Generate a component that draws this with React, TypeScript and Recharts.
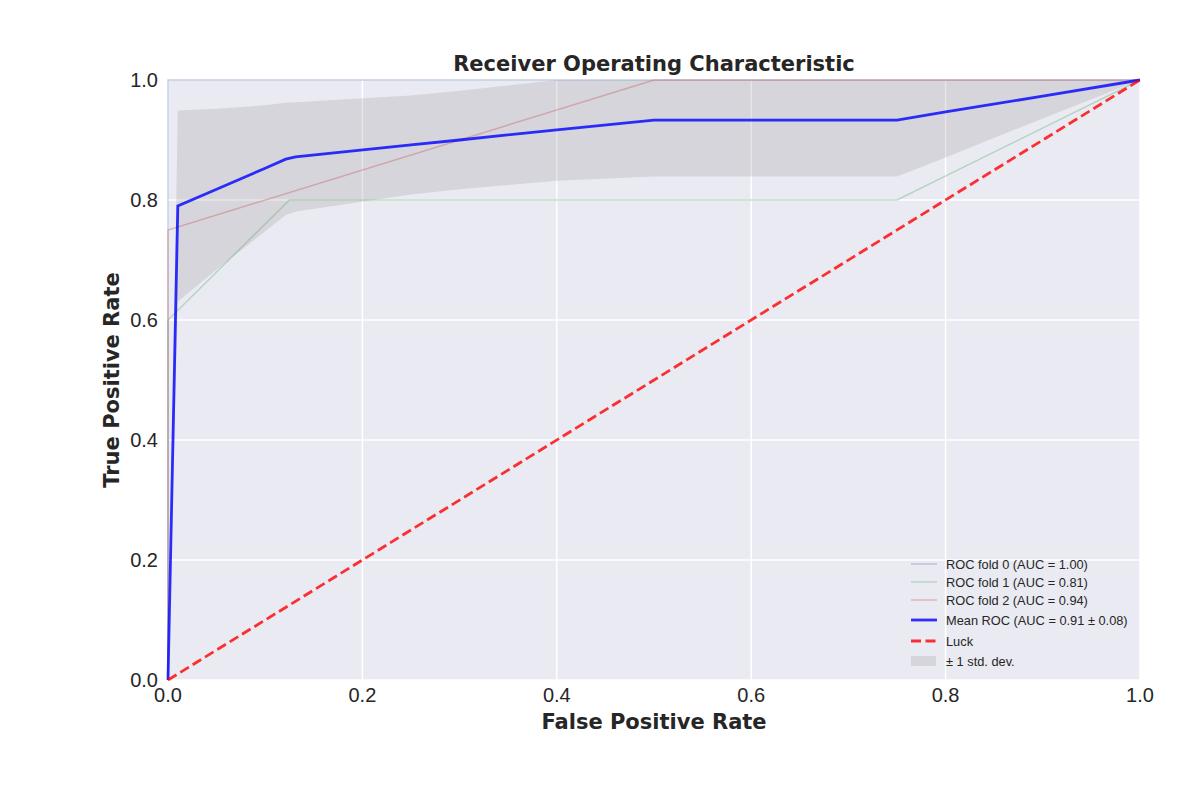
import React from 'react'
import {
  ComposedChart, Line, Area, XAxis, YAxis, CartesianGrid,
} from 'recharts'

// ROC points per fold
const fold0Fpr = [0, 0, 1]
const fold0Tpr = [0, 1, 1]
const fold1Fpr = [0, 0, 0.125, 0.75, 1]
const fold1Tpr = [0, 0.6, 0.8, 0.8, 1]
const fold2Fpr = [0, 0, 0.5, 1]
const fold2Tpr = [0, 0.75, 1, 1]
const luckFpr = [0, 1]
const luckTpr = [0, 1]

// mean curve and +/- 1 std band
const meanFpr = [0, 0.0101, 0.05, 0.1, 0.1212, 0.1313, 0.25, 0.3, 0.4, 0.5, 0.75, 0.8, 0.9, 1]
const meanTpr = [0, 0.79, 0.818, 0.853, 0.868, 0.872, 0.892, 0.9, 0.917, 0.933, 0.933, 0.947, 0.973, 1]
const stdLower = [0, 0.631, 0.684, 0.748, 0.775, 0.781, 0.809, 0.818, 0.832, 0.839, 0.839, 0.871, 0.936, 1]
const stdUpper = [0, 0.949, 0.952, 0.958, 0.962, 0.963, 0.974, 0.982, 1, 1, 1, 1, 1, 1]

const TICKS = [0, 0.2, 0.4, 0.6, 0.8, 1]

const FOLD_W = 1.4
const LEGEND = [
  { label: 'ROC fold 0 (AUC = 1.00)', color: '#4C72B0', opacity: 0.35, width: FOLD_W, kind: 'line' },
  { label: 'ROC fold 1 (AUC = 0.81)', color: '#55A868', opacity: 0.35, width: FOLD_W, kind: 'line' },
  { label: 'ROC fold 2 (AUC = 0.94)', color: '#C44E52', opacity: 0.35, width: FOLD_W, kind: 'line' },
  { label: 'Mean ROC (AUC = 0.91 \u00b1 0.08)', color: '#0000FF', opacity: 0.8, width: 2.8, kind: 'line' },
  { label: 'Luck', color: '#FF0000', opacity: 0.8, width: 2.8, kind: 'dash' },
  { label: '\u00b1 1 std. dev.', color: '#808080', opacity: 0.2, width: 0, kind: 'box' },
]
const LEGEND_Y = [564, 582, 600, 620, 641, 661]

const toPts = (xs: number[], ys: number[]) => xs.map((x, i) => ({ x, y: ys[i] }))

const bandData = meanFpr.map((x, i) => ({
  x, mean: meanTpr[i], lo: stdLower[i], hi: stdUpper[i],
}))

const TICK_STYLE = { fontSize: 20, fill: '#262626', fontFamily: '"Liberation Sans", Arial, sans-serif' }
const LABEL_STYLE = { fontSize: 21, fontWeight: 700, fill: '#262626', fontFamily: '"DejaVu Sans", sans-serif' }

export default function App() {
  return (
    <div style={{ position: 'absolute', left: 0, top: 0, width: 1200, height: 800, background: '#fff' }}>
      <div style={{
        position: 'absolute', left: 168, top: 52, width: 972, textAlign: 'center',
        fontFamily: '"DejaVu Sans", sans-serif', fontWeight: 700, fontSize: 21, color: '#262626',
      }}>
        Receiver Operating Characteristic
      </div>
      <ComposedChart
        width={1200}
        height={800}
        data={bandData}
        margin={{ top: 80, right: 60, bottom: 60, left: 88 }}
      >
        <CartesianGrid fill="#EAEAF2" stroke="#FFFFFF" strokeWidth={1.5}
          horizontalValues={TICKS} verticalValues={TICKS} />
        <XAxis
          type="number" dataKey="x" domain={[0, 1]} ticks={TICKS} height={60}
          tickFormatter={(v) => v.toFixed(1)} tick={TICK_STYLE}
          axisLine={false} tickLine={false} tickSize={0} tickMargin={8}
          label={{ value: 'False Positive Rate', position: 'center', dy: 12, style: LABEL_STYLE }}
        />
        <YAxis
          type="number" domain={[0, 1]} ticks={TICKS} width={80}
          tickFormatter={(v) => v.toFixed(1)} tick={TICK_STYLE}
          axisLine={false} tickLine={false} tickSize={0} tickMargin={10}
          label={{ value: 'True Positive Rate', position: 'center', angle: -90, dx: -16, style: LABEL_STYLE }}
        />
        <Area type="linear" dataKey={(d: any) => [d.lo, d.hi]} stroke="none"
          fill="#808080" fillOpacity={0.2} isAnimationActive={false} />
        <Line data={toPts(fold0Fpr, fold0Tpr)} dataKey="y" type="linear" stroke="#4C72B0"
          strokeOpacity={0.35} strokeWidth={FOLD_W} dot={false} isAnimationActive={false} />
        <Line data={toPts(fold1Fpr, fold1Tpr)} dataKey="y" type="linear" stroke="#55A868"
          strokeOpacity={0.35} strokeWidth={FOLD_W} dot={false} isAnimationActive={false} />
        <Line data={toPts(fold2Fpr, fold2Tpr)} dataKey="y" type="linear" stroke="#C44E52"
          strokeOpacity={0.35} strokeWidth={FOLD_W} dot={false} isAnimationActive={false} />
        <Line dataKey="mean" type="linear" stroke="#0000FF" strokeOpacity={0.8}
          strokeWidth={2.8} dot={false} isAnimationActive={false} />
        <Line data={toPts(luckFpr, luckTpr)} dataKey="y" type="linear" stroke="#FF0000"
          strokeOpacity={0.8} strokeWidth={2.8} strokeDasharray="10 4.5" dot={false}
          isAnimationActive={false} />
      </ComposedChart>
      {/* legend, lower right inside the plot */}
      <svg style={{ position: 'absolute', left: 0, top: 0, pointerEvents: 'none' }} width={1200} height={800}>
        {LEGEND.map((e, i) => {
          const y = LEGEND_Y[i]
          return (
            <g key={e.label}>
              {e.kind === 'box' ? (
                <rect x={911} y={y - 5} width={25} height={10} fill={e.color} fillOpacity={e.opacity} />
              ) : (
                <line x1={911} x2={937} y1={y} y2={y} stroke={e.color} strokeOpacity={e.opacity}
                  strokeWidth={e.width} strokeDasharray={e.kind === 'dash' ? '10 4.5' : undefined} />
              )}
              <text x={946} y={y} dominantBaseline="central" fontSize={12.8} fill="#262626"
                fontFamily='"Liberation Sans", Arial, sans-serif'>{e.label}</text>
            </g>
          )
        })}
      </svg>
    </div>
  )
}
